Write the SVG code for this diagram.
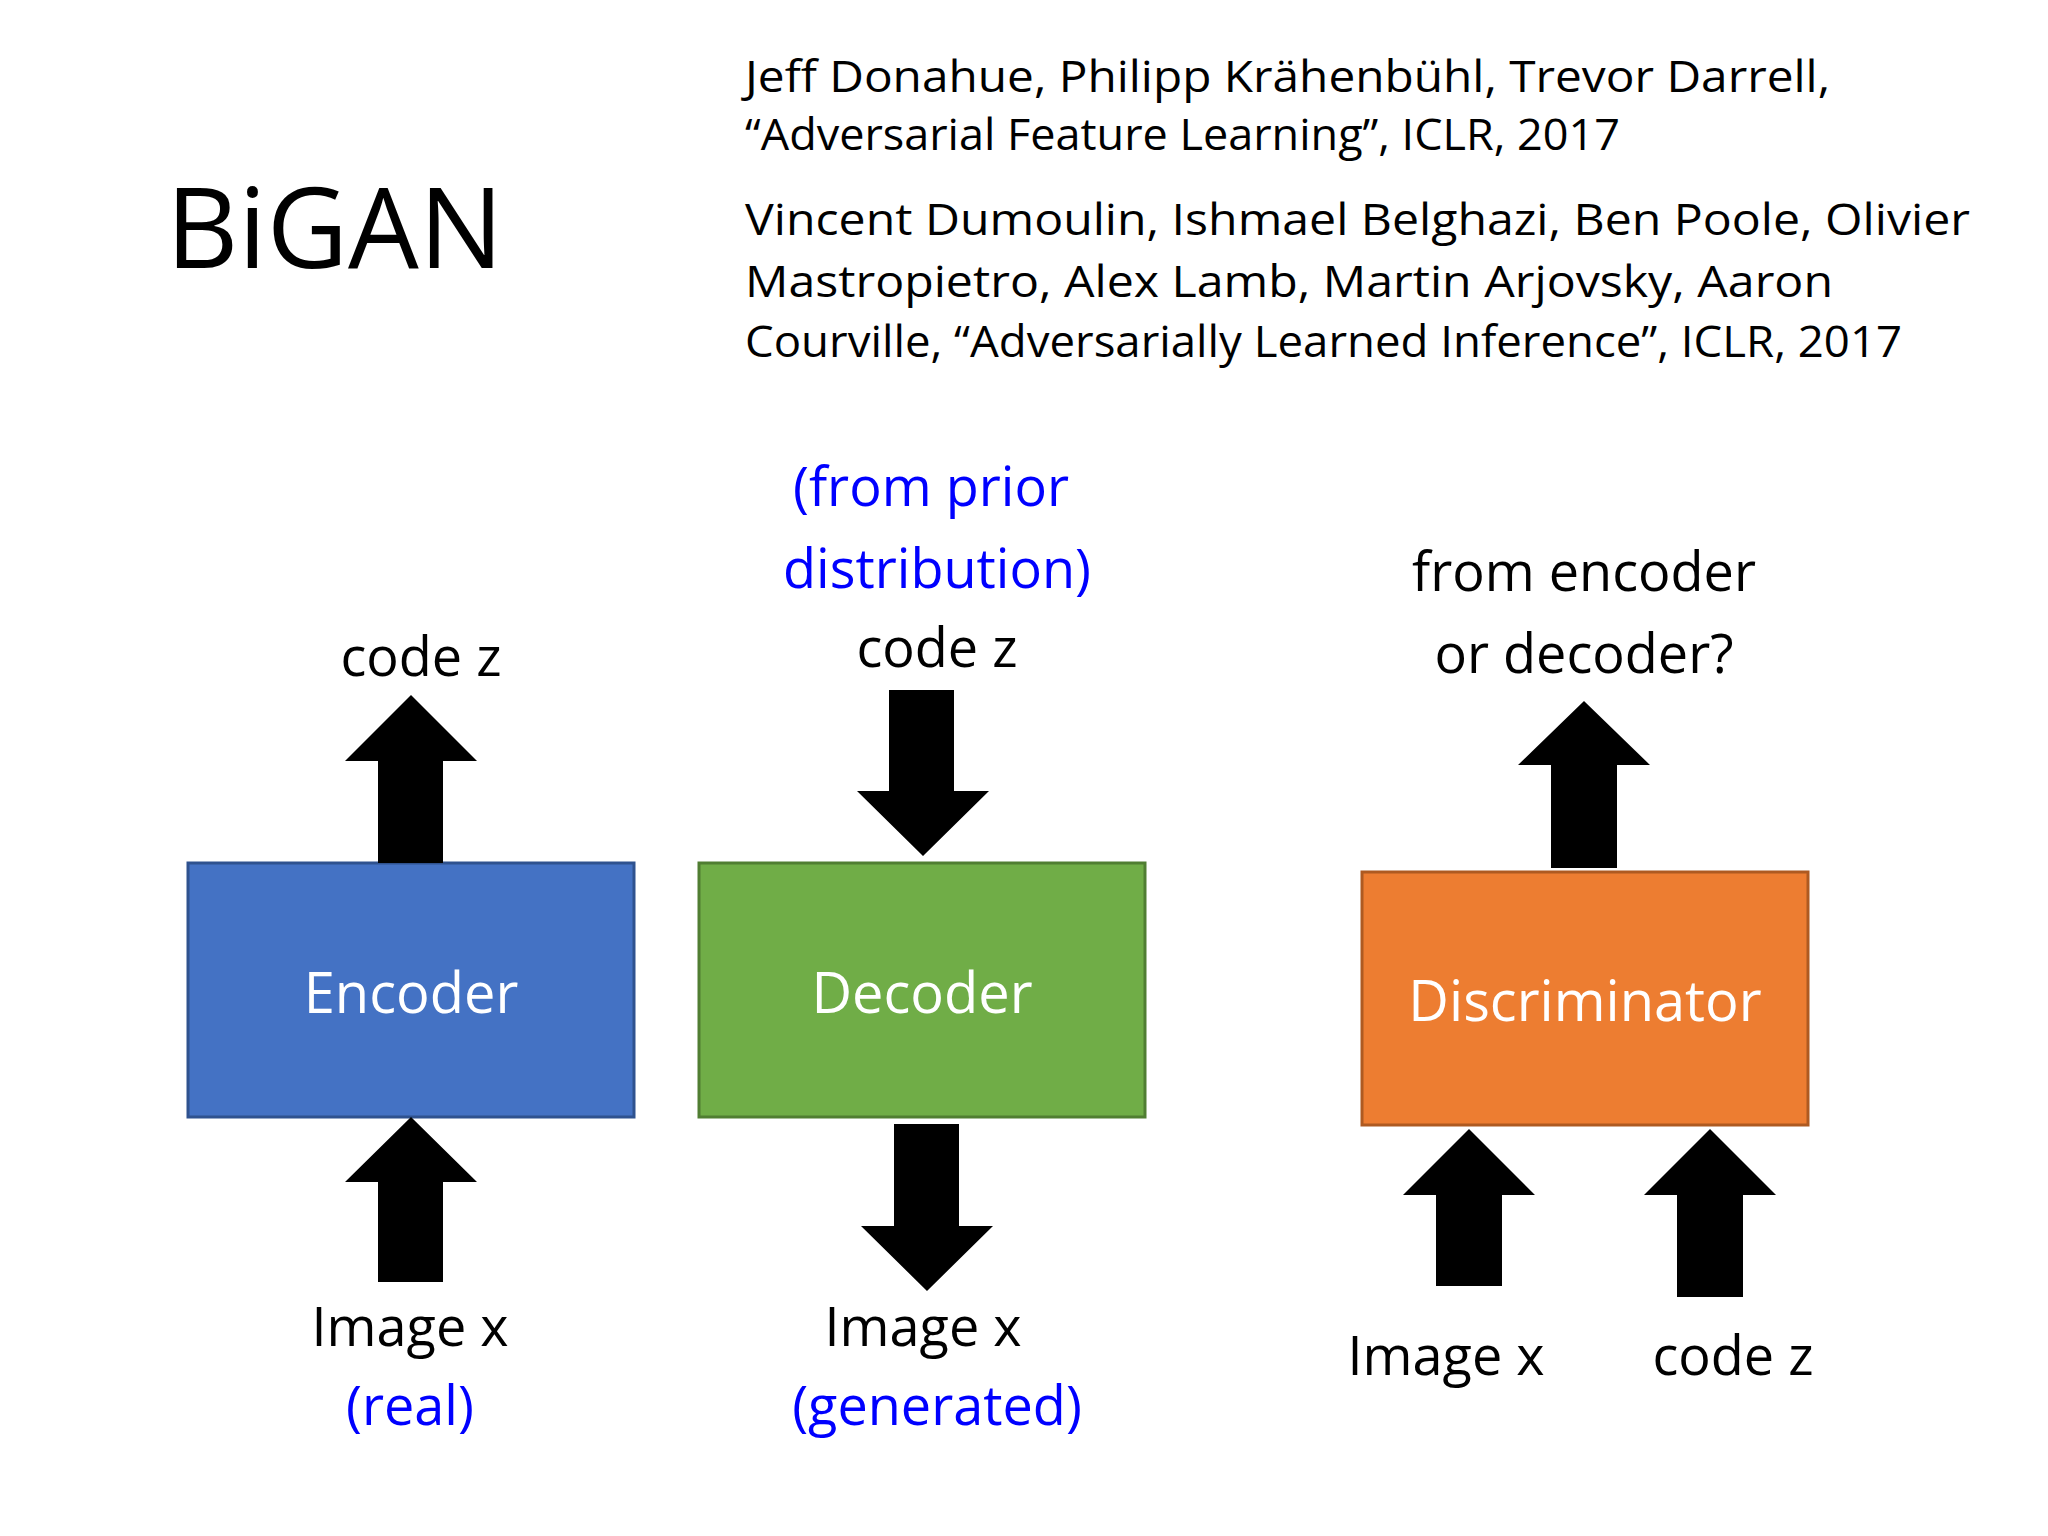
<svg xmlns="http://www.w3.org/2000/svg" width="2048" height="1536" viewBox="0 0 2048 1536">
<style>
text{font-family:"Open Sans","Noto Sans","DejaVu Sans",sans-serif;}
.lbl{font-size:54px;fill:#000;text-anchor:middle}
.blue{fill:#0000ff}
.ref{font-size:44px;fill:#000}
.box{font-size:56px;fill:#fff;text-anchor:middle}
.arr{fill:#000}
</style>
<rect width="2048" height="1536" fill="#fff"/>
<text x="166" y="268" style="font-size:112px">BiGAN</text>
<g id="refs" class="ref">
<text class="ref" x="745" y="92" textLength="1085" lengthAdjust="spacingAndGlyphs">Jeff Donahue, Philipp Krähenbühl, Trevor Darrell,</text>
<text class="ref" x="745" y="150" textLength="875" lengthAdjust="spacingAndGlyphs">“Adversarial Feature Learning”, ICLR, 2017</text>
<text class="ref" x="745" y="235" textLength="1225" lengthAdjust="spacingAndGlyphs">Vincent Dumoulin, Ishmael Belghazi, Ben Poole, Olivier</text>
<text class="ref" x="745" y="297" textLength="1088" lengthAdjust="spacingAndGlyphs">Mastropietro, Alex Lamb, Martin Arjovsky, Aaron</text>
<text class="ref" x="745" y="357" textLength="1157" lengthAdjust="spacingAndGlyphs">Courville, “Adversarially Learned Inference”, ICLR, 2017</text>
</g>
<g id="encoder"><rect x="188" y="863" width="446" height="254" fill="#4472C4" stroke="#2F528F" stroke-width="3"/><text class="box" x="411" y="1013">Encoder</text></g>
<g id="decoder"><rect x="699" y="863" width="446" height="254" fill="#70AD47" stroke="#507E32" stroke-width="3"/><text class="box" x="922" y="1013">Decoder</text></g>
<g id="discriminator"><rect x="1362" y="872" width="446" height="253" fill="#ED7D31" stroke="#AE5A21" stroke-width="3"/><text class="box" x="1585" y="1021">Discriminator</text></g>
<g id="connectors" class="arr">
<polygon points="411,695 477,761 443,761 443,863 378,863 378,761 345,761"/>
<polygon points="411,1117 477,1182 443,1182 443,1282 378,1282 378,1182 345,1182"/>
<polygon points="889,690 954,690 954,791 989,791 923,856 857,791 889,791"/>
<polygon points="894,1124 959,1124 959,1226 993,1226 927,1291 861,1226 894,1226"/>
<polygon points="1584,701 1650,765 1617,765 1617,868 1551,868 1551,765 1518,765"/>
<polygon points="1469,1129 1535,1195 1502,1195 1502,1286 1436,1286 1436,1195 1403,1195"/>
<polygon points="1710,1129 1776,1195 1743,1195 1743,1297 1677,1297 1677,1195 1644,1195"/>
</g>
<g id="labels">
<text class="lbl" x="421" y="676">code z</text>
<text class="lbl blue" x="931" y="506">(from prior</text>
<text class="lbl blue" x="937" y="588">distribution)</text>
<text class="lbl" x="937" y="667">code z</text>
<text class="lbl" x="1584" y="591">from encoder</text>
<text class="lbl" x="1584" y="673">or decoder?</text>
<text class="lbl" x="410" y="1346">Image x</text>
<text class="lbl blue" x="410" y="1425">(real)</text>
<text class="lbl" x="923" y="1346">Image x</text>
<text class="lbl blue" x="937" y="1425">(generated)</text>
<text class="lbl" x="1446" y="1375">Image x</text>
<text class="lbl" x="1733" y="1375">code z</text>
</g>
</svg>
